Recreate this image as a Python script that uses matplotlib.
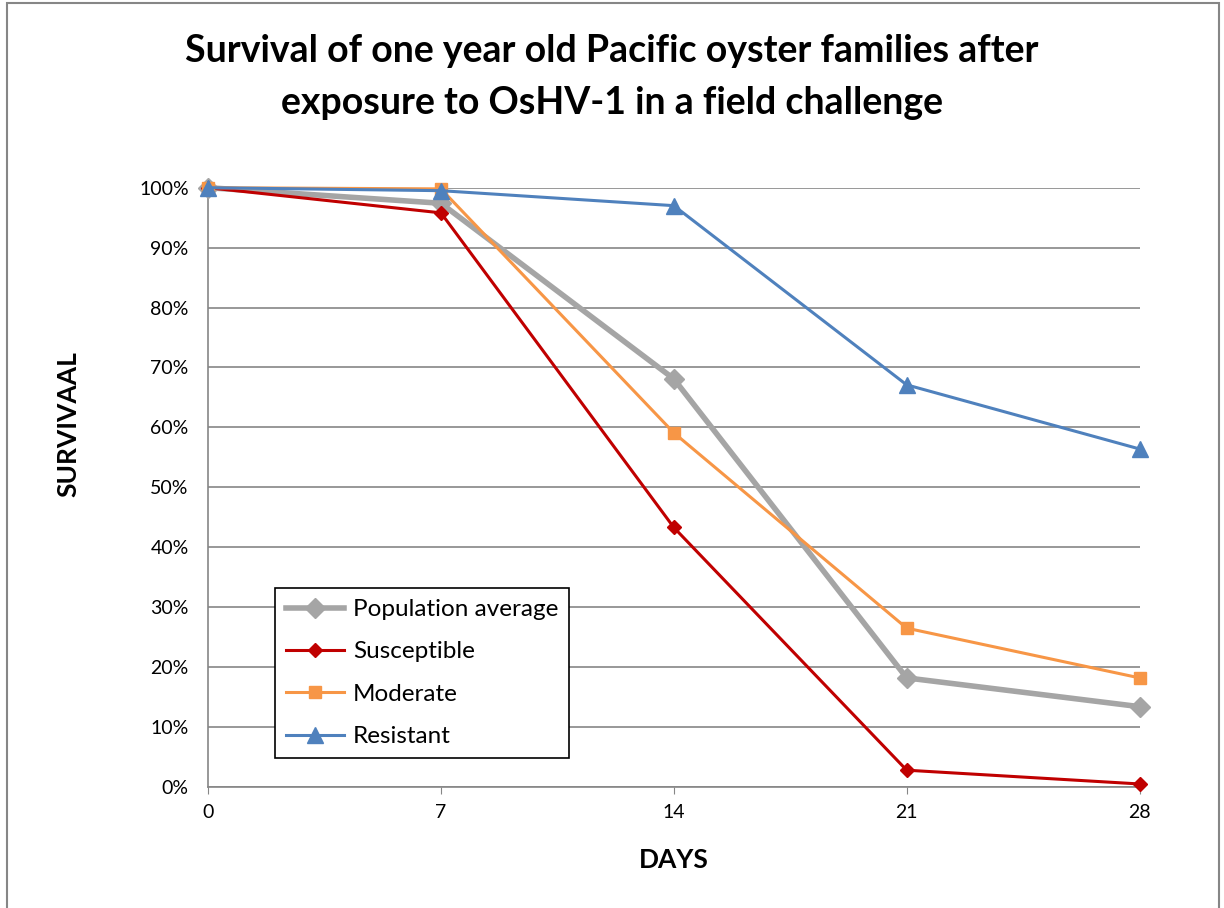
import matplotlib.pyplot as plt
from matplotlib.patches import Rectangle
from matplotlib.ticker import PercentFormatter

plt.rcParams['font.family'] = ['Lato', 'DejaVu Sans']

days = [0, 7, 14, 21, 28]
population_average = [100, 97.4, 68.1, 18.2, 13.4]
susceptible = [100, 95.8, 43.3, 2.8, 0.5]
moderate = [100, 99.8, 59.1, 26.5, 18.2]
resistant = [100, 99.5, 97.0, 67.1, 56.4]

fig = plt.figure(figsize=(12.24, 9.08), dpi=100)
ax = fig.add_axes([0.170, 0.1333, 0.761, 0.660])

ax.plot(days, [v / 100 for v in population_average], color="#a5a5a5", lw=4,
        marker="D", ms=10, label="Population average", zorder=3)
ax.plot(days, [v / 100 for v in susceptible], color="#c00000", lw=2.2,
        marker="D", ms=7, label="Susceptible", zorder=4)
ax.plot(days, [v / 100 for v in moderate], color="#f79646", lw=2.2,
        marker="s", ms=9, label="Moderate", zorder=5)
ax.plot(days, [v / 100 for v in resistant], color="#4f81bd", lw=2.2,
        marker="^", ms=11, label="Resistant", zorder=6)

ax.set_xlim(0, 28)
ax.set_ylim(0, 1)
ax.set_xticks(days)
ax.set_yticks([i / 10 for i in range(11)])
ax.yaxis.set_major_formatter(PercentFormatter(1.0, decimals=0))
ax.grid(axis="y", color="#868686", lw=1.2)
ax.set_axisbelow(True)
for s in ["top", "right"]:
    ax.spines[s].set_visible(False)
for s in ["left", "bottom"]:
    ax.spines[s].set_color("#868686")
    ax.spines[s].set_linewidth(1.2)
ax.tick_params(axis="x", colors="#868686", labelcolor="black", labelsize=14, length=5, pad=7)
ax.tick_params(axis="y", colors="#868686", labelcolor="black", labelsize=14, length=0, pad=14)
ax.margins(x=0)
for line in ax.lines:
    line.set_clip_on(False)

ax.set_xlabel("DAYS", fontsize=19, fontweight="bold")
ax.xaxis.set_label_coords(0.5, -0.102)
ax.set_ylabel("SURVIVAAL", fontsize=19, fontweight="bold")
ax.yaxis.set_label_coords(-0.137, 0.605)

fig.text(0.5, 0.915, "Survival of one year old Pacific oyster families after\nexposure to OsHV-1 in a field challenge",
         ha="center", va="center", fontsize=27, fontweight="bold", linespacing=1.65)

leg = ax.legend(loc="lower left", bbox_to_anchor=(0.072, 0.048), borderaxespad=0,
                fontsize=17.5, fancybox=False, edgecolor="black", framealpha=1,
                handlelength=2.4, borderpad=0.45, labelspacing=0.88, handletextpad=0.35)
leg.get_frame().set_linewidth(1.2)

fig.patches.append(Rectangle((0.006, -0.01), 0.99, 1.007, transform=fig.transFigure,
                             fill=False, edgecolor="#868686", lw=1.5))

fig.savefig("out.png", dpi=100)
